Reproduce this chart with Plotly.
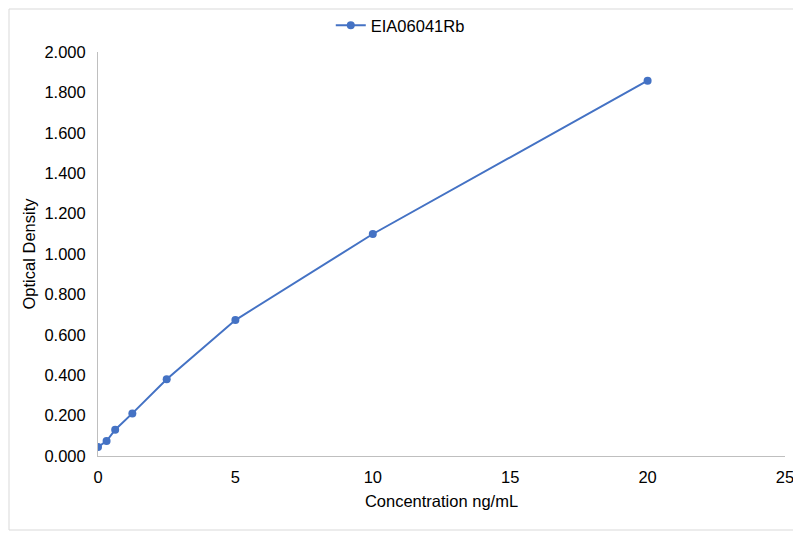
import plotly.graph_objects as go

# standard curve readings
concentration = [0, 0.3125, 0.625, 1.25, 2.5, 5, 10, 20]
optical_density = [0.045, 0.074, 0.130, 0.211, 0.380, 0.673, 1.099, 1.858]
series_name = "EIA06041Rb"

y_ticks = [0, 0.2, 0.4, 0.6, 0.8, 1.0, 1.2, 1.4, 1.6, 1.8, 2.0]
x_ticks = [0, 5, 10, 15, 20, 25]

blue = "#4472C4"
axis_grey = "#BFBFBF"

# the page body has an 8px margin, so the figure is shrunk to fit the window
W, H = 793, 525
M_L, M_R, M_T, M_B = 90, 16, 0, 77
plot_w = W - M_L - M_R
plot_h = 404
paper_h = H - M_T - M_B
top = plot_h / paper_h

fig = go.Figure()
fig.add_trace(go.Scatter(
    x=concentration,
    y=optical_density,
    mode="lines+markers",
    name=series_name,
    line=dict(color=blue, width=2),
    marker=dict(color=blue, size=8),
))

fig.update_layout(
    width=W,
    height=H,
    paper_bgcolor="white",
    plot_bgcolor="white",
    margin=dict(l=M_L, r=M_R, t=M_T, b=M_B),
    font=dict(family="Liberation Sans, Arial", size=16.5, color="#000000"),
    showlegend=True,
    legend=dict(
        orientation="h",
        x=0.44, xanchor="center",
        y=1, yanchor="top",
        bgcolor="rgba(0,0,0,0)",
        font=dict(size=16.5),
    ),
    # thin chart border
    shapes=[dict(
        type="rect", xref="paper", yref="paper", layer="below",
        x0=-(M_L - 1) / plot_w, x1=1 + (M_R - 2) / plot_w,
        y0=-(M_B - 3) / paper_h, y1=1 - 1 / paper_h,
        line=dict(color="#D9D9D9", width=1),
    )],
)

fig.update_xaxes(
    range=[0, 25],
    tickvals=x_ticks,
    showgrid=False,
    zeroline=False,
    showline=True,
    linecolor=axis_grey,
    linewidth=1,
    ticks="",
    automargin=False,
    ticklabelstandoff=6,
    title=dict(text="Concentration ng/mL", font=dict(size=16.5), standoff=10),
)
fig.update_yaxes(
    domain=[0, top],
    range=[0, 2.0],
    tickvals=y_ticks,
    tickformat=".3f",
    showgrid=False,
    zeroline=False,
    showline=True,
    linecolor=axis_grey,
    linewidth=1,
    ticks="",
    automargin=False,
    ticklabelstandoff=8,
    title=dict(text="Optical Density", font=dict(size=16.5), standoff=4),
)

fig.write_html("out.html")
